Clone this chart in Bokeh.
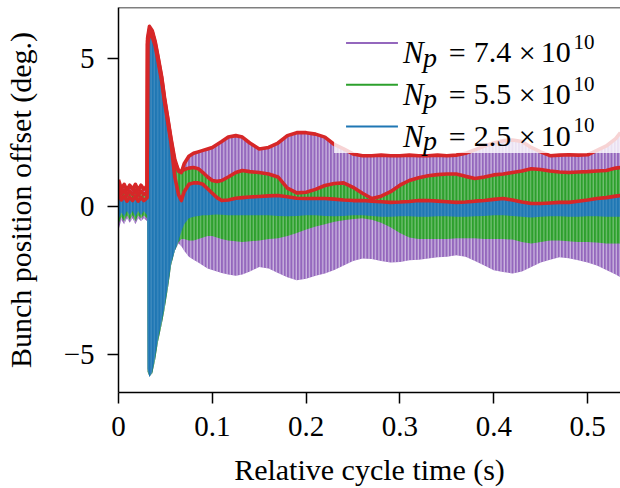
from bokeh.plotting import figure
from bokeh.models import FixedTicker, Span, BoxAnnotation, Label, Range1d
from bokeh.embed import file_html
from bokeh.resources import INLINE

# ---------------- data ----------------
t = [0.000, 0.003, 0.006, 0.009, 0.012, 0.015, 0.018, 0.021, 0.024, 0.027, 0.0305,
     0.031, 0.033, 0.036, 0.039, 0.042, 0.046, 0.049, 0.053, 0.056, 0.060,
     0.064, 0.067, 0.070, 0.075, 0.080, 0.085, 0.090, 0.095, 0.100, 0.105,
     0.110, 0.117, 0.125, 0.132, 0.140,
     0.15, 0.16, 0.17, 0.18, 0.19, 0.20, 0.21, 0.22, 0.23, 0.24, 0.25, 0.26,
     0.27, 0.28, 0.29, 0.30, 0.31, 0.32, 0.33, 0.34, 0.35, 0.36, 0.37, 0.38,
     0.39, 0.40, 0.41, 0.42, 0.43, 0.44, 0.45, 0.46, 0.47, 0.48, 0.49, 0.50,
     0.51, 0.52, 0.53, 0.535]

# N_p = 7.4e10 : upper / lower envelope of the oscillation
hi74 = [0.9, 0.6, 0.75, 0.55, 0.72, 0.58, 0.75, 0.55, 0.72, 0.58, 0.7,
        5.7, 6.1, 5.95, 5.6, 5.1, 4.4, 3.7, 2.9, 2.3, 1.6,
        1.2, 1.15, 1.45, 1.7, 1.8, 1.85, 1.9, 1.95, 2.0, 2.1,
        2.2, 2.35, 2.4, 2.35, 2.15,
        1.95, 2.0, 2.15, 2.4, 2.5, 2.5, 2.45, 2.35, 2.1, 1.95, 1.78, 1.72,
        1.72, 1.74, 1.72, 1.72, 1.74, 1.72, 1.72, 1.74, 1.72, 1.74, 1.8, 1.92,
        2.05, 2.15, 2.23, 2.25, 2.2, 2.0, 1.85, 1.72, 1.74, 1.75, 1.74, 1.75,
        1.9, 2.05, 2.3, 2.5]
lo74 = [-0.8, -0.45, -0.6, -0.4, -0.55, -0.4, -0.6, -0.4, -0.5, -0.4, -0.5,
        -5.6, -5.75, -5.65, -5.2, -4.6, -4.0, -3.5, -2.7, -2.0, -1.5,
        -1.25, -1.35, -1.5, -1.7, -1.8, -1.9, -2.0, -2.1, -2.15, -2.2,
        -2.25, -2.3, -2.35, -2.3, -2.2,
        -2.05, -2.1, -2.25, -2.4, -2.5, -2.45, -2.35, -2.27, -2.15, -2.0, -1.85, -1.76,
        -1.78, -1.85, -1.9, -1.88, -1.82, -1.8, -1.76, -1.72, -1.7, -1.65, -1.7, -1.85,
        -2.0, -2.16, -2.22, -2.27, -2.2, -2.05, -1.9, -1.8, -1.72, -1.75, -1.82, -1.9,
        -2.0, -2.15, -2.3, -2.4]

# N_p = 5.5e10
hi55 = [0.7, 0.42, 0.55, 0.38, 0.52, 0.4, 0.55, 0.38, 0.52, 0.4, 0.5,
        5.6, 6.0, 5.9, 5.55, 5.05, 4.35, 3.65, 2.85, 2.25, 1.5,
        1.2, 1.2, 1.25, 1.3, 1.32, 1.28, 1.15, 1.0, 0.88, 0.85,
        0.88, 1.0, 1.15, 1.22, 1.18,
        1.15, 1.1, 1.0, 0.62, 0.46, 0.48, 0.58, 0.71, 0.78, 0.8, 0.65, 0.45,
        0.27, 0.35, 0.5, 0.72, 0.88, 0.97, 1.04, 1.08, 1.1, 1.1, 1.02, 0.95,
        1.0, 1.07, 1.1, 1.15, 1.2, 1.28, 1.25, 1.2, 1.17, 1.15, 1.17, 1.18,
        1.2, 1.22, 1.3, 1.32]
lo55 = [-0.6, -0.35, -0.5, -0.3, -0.45, -0.3, -0.5, -0.3, -0.4, -0.3, -0.4,
        -5.6, -5.75, -5.65, -5.2, -4.6, -4.0, -3.5, -2.7, -2.0, -1.5,
        -1.2, -1.1, -1.1, -1.15, -1.15, -1.1, -1.05, -1.0, -1.0, -1.05,
        -1.1, -1.15, -1.18, -1.2, -1.18,
        -1.15, -1.1, -1.08, -1.0, -0.9, -0.78, -0.68, -0.6, -0.52, -0.47, -0.42, -0.4,
        -0.45, -0.55, -0.7, -0.9, -1.05, -1.1, -1.1, -1.1, -1.1, -1.08, -1.08, -1.08,
        -1.1, -1.1, -1.1, -1.12, -1.2, -1.25, -1.2, -1.15, -1.15, -1.18, -1.2, -1.2,
        -1.22, -1.25, -1.25, -1.25]

# N_p = 2.5e10
hi25 = [0.5, 0.22, 0.35, 0.18, 0.32, 0.2, 0.35, 0.18, 0.32, 0.2, 0.3,
        5.5, 5.85, 5.75, 5.45, 4.95, 4.25, 3.55, 2.75, 2.15, 1.0,
        0.4, 0.2, 0.5, 0.75, 0.8, 0.8, 0.75, 0.6, 0.45, 0.3,
        0.2, 0.22, 0.28, 0.3, 0.32,
        0.34, 0.36, 0.37, 0.33, 0.28, 0.27, 0.27, 0.27, 0.25, 0.22, 0.2, 0.2,
        0.18, 0.16, 0.14, 0.15, 0.17, 0.2, 0.2, 0.18, 0.16, 0.14, 0.15, 0.18,
        0.2, 0.24, 0.27, 0.22, 0.15, 0.1, 0.1, 0.12, 0.14, 0.14, 0.18, 0.22,
        0.27, 0.3, 0.35, 0.37]
lo25 = [-0.45, -0.2, -0.35, -0.15, -0.3, -0.15, -0.35, -0.15, -0.3, -0.15, -0.3,
        -5.5, -5.78, -5.6, -5.1, -4.5, -3.9, -3.4, -2.6, -1.93, -1.5,
        -1.15, -0.85, -0.6, -0.4, -0.35, -0.32, -0.3, -0.3, -0.28, -0.27,
        -0.28, -0.3, -0.3, -0.3, -0.3,
        -0.3, -0.3, -0.32, -0.33, -0.32, -0.3, -0.3, -0.32, -0.33, -0.32, -0.3, -0.3,
        -0.32, -0.35, -0.35, -0.33, -0.33, -0.35, -0.35, -0.33, -0.33, -0.35, -0.35, -0.33,
        -0.32, -0.3, -0.3, -0.32, -0.35, -0.37, -0.35, -0.33, -0.33, -0.35, -0.35, -0.33,
        -0.33, -0.35, -0.35, -0.35]

legend_mantissa = ["7.4", "5.5", "2.5"]
series_colors = ["#9467bd", "#2ca02c", "#1f77b4"]
env_color = "#d62728"

x_ticks = [0, 0.1, 0.2, 0.3, 0.4, 0.5]
y_ticks = [-5, 0, 5]

# ---------------- layout ----------------
FONT = "Liberation Serif"
W, H = 620, 488
FL, FR, FT, FB = 117, 620, 7, 393          # frame edges in canvas pixels
X0, X1 = 0.0, (FR - FL) / 940.0
Y1, Y0 = (206.5 - FT) / 29.6, (206.5 - FB) / 29.6


def px_x(px):
    return X0 + (px - FL) / (FR - FL) * (X1 - X0)


def px_y(py):
    return Y1 - (py - FT) / (FB - FT) * (Y1 - Y0)


p = figure(width=W, height=H, output_backend="svg", toolbar_location=None,
           x_range=Range1d(X0, X1), y_range=Range1d(Y0, Y1),
           min_border_left=FL, min_border_right=W - FR,
           min_border_top=FT, min_border_bottom=H - FB)
p.outline_line_color = None
p.xgrid.visible = False
p.ygrid.visible = False
p.background_fill_color = "white"
p.border_fill_color = "white"

# oscillation bands
hatch_alpha = [0.55, 0.35, 0.15]
for lo, hi, c, ha in zip([lo74, lo55, lo25], [hi74, hi55, hi25], series_colors, hatch_alpha):
    p.varea(x=t, y1=lo, y2=hi, fill_color=c, fill_alpha=1.0,
            hatch_pattern="vertical_line", hatch_color="white",
            hatch_alpha=ha, hatch_scale=3.3, hatch_weight=1.2)

# envelope lines
for hi in [hi74, hi55, hi25]:
    p.line(x=t, y=hi, line_color=env_color, line_width=3.6, line_join="round")

# top spine
p.add_layout(Span(location=Y1, dimension="width", line_color="black", line_width=1.5))

# axes
for ax in (p.xaxis[0], p.yaxis[0]):
    ax.axis_line_width = 1.5
    ax.axis_line_color = "black"
    ax.major_tick_line_width = 1.5
    ax.major_tick_line_color = "black"
    ax.major_tick_out = 11
    ax.major_tick_in = 0
    ax.minor_tick_line_color = None
    ax.major_label_text_font = FONT
    ax.major_label_text_font_size = "29px"
    ax.major_label_text_color = "black"
    ax.axis_label_text_font = FONT
    ax.axis_label_text_font_size = "30px"
    ax.axis_label_text_font_style = "normal"
    ax.axis_label_text_color = "black"

p.xaxis.ticker = FixedTicker(ticks=x_ticks)
p.yaxis.ticker = FixedTicker(ticks=y_ticks)
p.xaxis.major_label_overrides = {0: "0"}
p.yaxis.major_label_overrides = {-5: "\u22125"}
p.xaxis.axis_label = "Relative cycle time (s)"
p.yaxis.axis_label = "Bunch position offset (deg.)"
p.xaxis.major_label_standoff = 13
p.xaxis.axis_label_standoff = 14
p.yaxis.major_label_standoff = 13
p.yaxis.axis_label_standoff = 24

# legend (manual, to allow sub/superscripts)
p.add_layout(BoxAnnotation(left=px_x(333), right=X1, top=px_y(16), bottom=px_y(153),
                           fill_color="white", fill_alpha=0.8, line_color=None))
row_y = [42.7, 84.5, 126.3]
for ry, mant, c in zip(row_y, legend_mantissa, series_colors):
    p.line(x=[px_x(345), px_x(397)], y=[px_y(ry), px_y(ry)], line_color=c,
           line_width=2, level="overlay")
    base = ry + 9.6
    parts = [
        (402, base, "N", "31px", "italic"),
        (422, base + 4.5, "p", "28px", "italic"),
        (448, base, "=", "30px", "normal"),
        (473, base, mant, "30px", "normal"),
        (518, base, "\u00d7", "30px", "normal"),
        (540, base, "10", "30px", "normal"),
        (573, base - 10.6, "10", "21px", "normal"),
    ]
    for xx, yy, txt, fs, st in parts:
        p.add_layout(Label(x=px_x(xx), y=px_y(yy), text=txt, text_font=FONT,
                           text_font_size=fs, text_font_style=st,
                           text_color="black", text_baseline="alphabetic",
                           text_align="left", level="overlay"))

open("out.html", "w").write(file_html(p, INLINE))
